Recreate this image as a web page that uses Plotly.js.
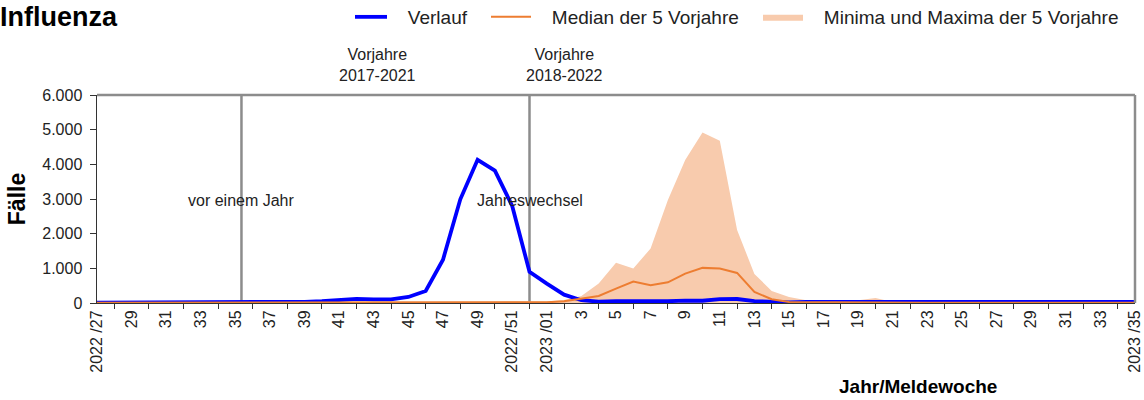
<!DOCTYPE html>
<html><head><meta charset="utf-8">
<script src="https://cdn.plot.ly/plotly-3.0.1.min.js"></script>
<style>html,body{margin:0;padding:0;background:#fff}#chart{width:1144px;height:400px}</style>
</head><body><div id="chart"></div>
<script>
const weeks = ["2022/27","2022/28","2022/29","2022/30","2022/31","2022/32","2022/33","2022/34","2022/35","2022/36","2022/37","2022/38","2022/39","2022/40","2022/41","2022/42","2022/43","2022/44","2022/45","2022/46","2022/47","2022/48","2022/49","2022/50","2022/51","2022/52",
"2023/01","2023/02","2023/03","2023/04","2023/05","2023/06","2023/07","2023/08","2023/09","2023/10","2023/11","2023/12","2023/13","2023/14","2023/15","2023/16","2023/17","2023/18","2023/19","2023/20","2023/21","2023/22","2023/23","2023/24","2023/25","2023/26","2023/27","2023/28","2023/29","2023/30","2023/31","2023/32","2023/33","2023/34","2023/35"];
const verlauf = [10,10,10,10,10,10,10,10,15,25,30,25,35,50,75,120,105,105,175,345,1250,2990,4130,3820,2800,900,
560,240,80,40,55,50,55,50,70,65,110,115,55,30,15,35,40,35,35,35,30,30,30,30,30,30,30,30,30,30,30,30,30,30,30];
const median = [10,10,10,10,10,10,10,10,10,10,10,10,10,10,10,10,10,10,10,10,15,15,15,15,30,25,
20,50,127,204,415,618,512,598,849,1013,994,868,320,107,30,25,20,15,15,15,10,10,10,10,10,10,10,10,10,10,10,10,10,10,10];
const minima = [0,0,0,0,0,0,0,0,0,0,0,0,0,0,0,0,0,0,0,0,0,0,0,0,0,0,
0,0,2,5,10,10,12,15,15,20,15,10,5,2,0,0,0,0,0,0,0,0,0,0,0,0,0,0,0,0,0,0,0,0,0];
const maxima = [25,25,25,25,25,25,25,25,25,25,25,25,25,25,25,25,25,25,30,35,40,40,45,45,50,40,
45,90,204,560,1158,994,1573,2970,4128,4918,4677,2103,840,347,175,78,55,60,80,145,30,25,25,25,25,25,25,25,25,25,25,25,25,25,25];
const tickLabels = ["2022 /27","29","31","33","35","37","39","41","43","45","47","49","2022 /51","2023 /01","3","5","7","9","11","13","15","17","19","21","23","25","27","29","31","33","2023 /35"];
const yTickVals = [0,1000,2000,3000,4000,5000,6000];
const yTickText = ["0","1.000","2.000","3.000","4.000","5.000","6.000"];

const xs = weeks.map((w,i)=>i);
const tickVals = tickLabels.map((t,i)=>i*2);
const minorVals = tickLabels.slice(1).map((t,i)=>i*2+1);
const FONT = "Liberation Sans, Arial, sans-serif";
const vorJahrX = 8.35, jahreswechselX = 25;
const pad = "\u00a0\u00a0\u00a0";

const traces = [
  {x:xs, y:minima, type:'scatter', mode:'lines', line:{width:0,color:'#F8CBAD'}, showlegend:false, hoverinfo:'skip'},
  {x:xs, y:maxima, type:'scatter', mode:'lines', fill:'tonexty', fillcolor:'#F8CBAD', line:{width:0,color:'#F8CBAD'}, name:pad+'Minima und Maxima der 5 Vorjahre', legend:'legend3'},
  {x:xs, y:verlauf, type:'scatter', mode:'lines', line:{width:3.8,color:'#0000FF'}, name:pad+'Verlauf', legend:'legend'},
  {x:xs, y:median, type:'scatter', mode:'lines', line:{width:2,color:'#ED7D31'}, name:pad+'Median der 5 Vorjahre', legend:'legend2'}
];

const legFont = {family:FONT, size:19, color:'#222'};
const layout = {
  width:1144, height:400,
  margin:{l:97, r:9, t:95, b:97},
  paper_bgcolor:'#fff', plot_bgcolor:'#fff',
  font:{family:FONT, size:16, color:'#222'},
  title:{text:'<b>Influenza</b>', x:0, xref:'container', xanchor:'left', y:1-17/400, yref:'container', yanchor:'middle', font:{family:FONT, size:27, color:'#000'}, pad:{l:0,t:0,b:0,r:0}},
  legend:{x:350/1144, xref:'container', xanchor:'left', y:1-17/400, yref:'container', yanchor:'middle', orientation:'h', font:legFont, bgcolor:'rgba(0,0,0,0)', itemwidth:32},
  legend2:{x:486/1144, xref:'container', xanchor:'left', y:1-17/400, yref:'container', yanchor:'middle', orientation:'h', font:legFont, bgcolor:'rgba(0,0,0,0)', itemwidth:40},
  legend3:{x:758/1144, xref:'container', xanchor:'left', y:1-17/400, yref:'container', yanchor:'middle', orientation:'h', font:legFont, bgcolor:'rgba(0,0,0,0)', itemwidth:40},
  xaxis:{range:[0,60], tickmode:'array', tickvals:tickVals, ticktext:tickLabels, tickangle:-90, ticks:'', showgrid:false, zeroline:false,
    showline:true, linecolor:'#333', linewidth:1, tickfont:{family:FONT,size:16,color:'#222'},
    minor:{tickmode:'array', tickvals:minorVals, ticks:'outside', ticklen:5, tickcolor:'#333', tickwidth:1, showgrid:false}},
  yaxis:{range:[0,6000], tickmode:'array', tickvals:yTickVals, ticktext:yTickText, ticks:'outside', ticklen:6, tickcolor:'#333', showgrid:false, zeroline:false,
    showline:true, linecolor:'#333', linewidth:1.5, tickfont:{family:FONT,size:16,color:'#222'}, ticklabelstandoff:4,
    title:{text:'<b>Fälle</b>', font:{family:FONT,size:23,color:'#000'}, standoff:10}},
  shapes:[
    {type:'line', xref:'paper', yref:'paper', x0:0, x1:1, y0:1, y1:1, line:{color:'#8c8c8c', width:2.5}},
    {type:'line', xref:'paper', yref:'paper', x0:1, x1:1, y0:0, y1:1, line:{color:'#8c8c8c', width:2.5}},
    {type:'line', xref:'x', yref:'paper', x0:vorJahrX, x1:vorJahrX, y0:0, y1:1, line:{color:'#8c8c8c', width:2.5}, layer:'below'},
    {type:'line', xref:'x', yref:'paper', x0:jahreswechselX, x1:jahreswechselX, y0:0, y1:1, line:{color:'#8c8c8c', width:2.5}, layer:'below'}
  ],
  annotations:[
    {text:'Vorjahre<br>2017-2021', x:16.2, xref:'x', y:1.146, yref:'paper', showarrow:false, xanchor:'center', yanchor:'middle', font:{family:FONT,size:16,color:'#222'}},
    {text:'Vorjahre<br>2018-2022', x:27.05, xref:'x', y:1.146, yref:'paper', showarrow:false, xanchor:'center', yanchor:'middle', font:{family:FONT,size:16,color:'#222'}},
    {text:'vor einem Jahr', x:vorJahrX, xref:'x', y:2970, yref:'y', showarrow:false, xanchor:'center', yanchor:'middle', font:{family:FONT,size:16,color:'#222'}},
    {text:'Jahreswechsel', x:jahreswechselX, xref:'x', y:2970, yref:'y', showarrow:false, xanchor:'center', yanchor:'middle', font:{family:FONT,size:16,color:'#222'}},
    {text:'<b>Jahr/Meldewoche</b>', x:0.791, xref:'paper', y:-0.4016, yref:'paper', showarrow:false, xanchor:'center', yanchor:'middle', font:{family:FONT,size:19,color:'#000'}}
  ]
};
Plotly.newPlot('chart', traces, layout, {staticPlot:true, displayModeBar:false});
</script>
</body></html>
